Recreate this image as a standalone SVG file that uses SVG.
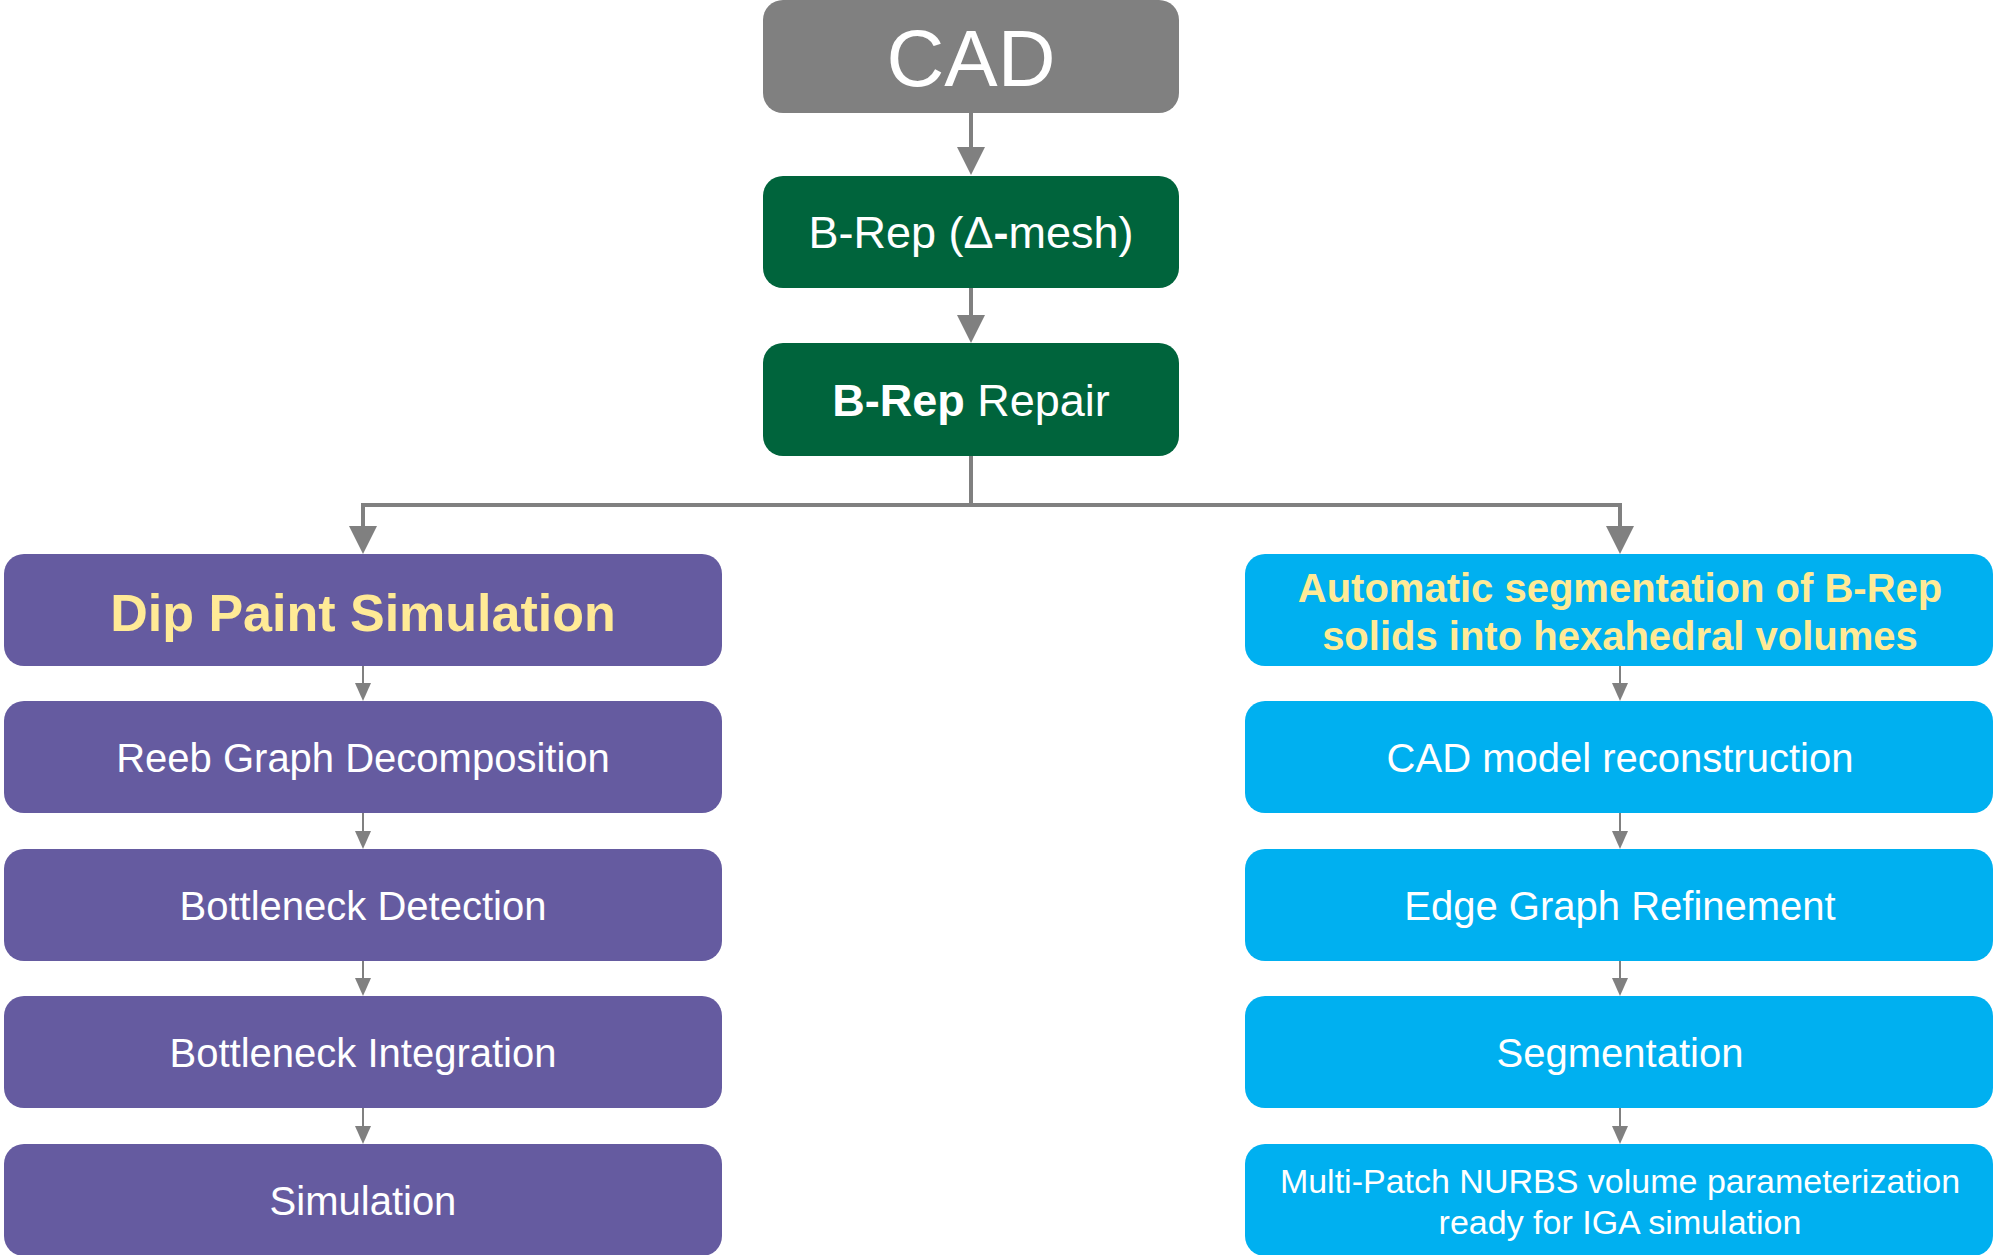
<svg xmlns="http://www.w3.org/2000/svg" width="1993" height="1255" viewBox="0 0 1993 1255">
<defs>
<style>
.t{font-family:"Liberation Sans",Arial,sans-serif;text-anchor:middle;fill:#fff}
.b{font-weight:bold}
.y{fill:#FFEA96}
.gray{fill:#808080}
.green{fill:#00643C}
.purple{fill:#655BA0}
.blue{fill:#00B0F0}
.c{fill:none;stroke:#808080}
.big{stroke-width:4}
.sm{stroke-width:2}
</style>
<marker id="ab" markerUnits="userSpaceOnUse" markerWidth="28" markerHeight="28" refX="0" refY="14" orient="auto" overflow="visible">
<path d="M0,0 L28,14 L0,28 Z" fill="#808080"/>
</marker>
<marker id="as" markerUnits="userSpaceOnUse" markerWidth="18" markerHeight="16" refX="0" refY="8" orient="auto" overflow="visible">
<path d="M0,0 L18,8 L0,16 Z" fill="#808080"/>
</marker>
</defs>
<rect width="1993" height="1255" fill="#fff"/>

<g id="connectors">
<path class="c big" d="M971,113 V147" marker-end="url(#ab)"/>
<path class="c big" d="M971,288 V315" marker-end="url(#ab)"/>
<path class="c big" d="M971,456 V505 H363 V526" marker-end="url(#ab)"/>
<path class="c big" d="M971,505 H1620 V526" marker-end="url(#ab)"/>
<path class="c sm" d="M363,666 V683" marker-end="url(#as)"/>
<path class="c sm" d="M363,813 V831" marker-end="url(#as)"/>
<path class="c sm" d="M363,961 V978" marker-end="url(#as)"/>
<path class="c sm" d="M363,1108 V1126" marker-end="url(#as)"/>
<path class="c sm" d="M1620,666 V683" marker-end="url(#as)"/>
<path class="c sm" d="M1620,813 V831" marker-end="url(#as)"/>
<path class="c sm" d="M1620,961 V978" marker-end="url(#as)"/>
<path class="c sm" d="M1620,1108 V1126" marker-end="url(#as)"/>
</g>

<g id="cad">
<rect class="gray" x="763" y="0" width="416" height="113" rx="20"/>
<text class="t" x="971" y="86" font-size="80">CAD</text>
</g>
<g id="brep-mesh">
<rect class="green" x="763" y="176" width="416" height="112" rx="20"/>
<text class="t" x="971" y="248" font-size="45">B-Rep (Δ<tspan class="b">-</tspan>mesh)</text>
</g>
<g id="brep-repair">
<rect class="green" x="763" y="343" width="416" height="113" rx="20"/>
<text class="t" x="971" y="416" font-size="45"><tspan class="b">B-Rep</tspan> Repair</text>
</g>

<g id="dip-paint">
<rect class="purple" x="4" y="554" width="718" height="112" rx="20"/>
<text class="t b y" x="363" y="631" font-size="52">Dip Paint Simulation</text>
</g>
<g id="reeb">
<rect class="purple" x="4" y="701" width="718" height="112" rx="20"/>
<text class="t" x="363" y="772" font-size="40">Reeb Graph Decomposition</text>
</g>
<g id="bottleneck-detection">
<rect class="purple" x="4" y="849" width="718" height="112" rx="20"/>
<text class="t" x="363" y="920" font-size="40">Bottleneck Detection</text>
</g>
<g id="bottleneck-integration">
<rect class="purple" x="4" y="996" width="718" height="112" rx="20"/>
<text class="t" x="363" y="1067" font-size="40">Bottleneck Integration</text>
</g>
<g id="simulation">
<rect class="purple" x="4" y="1144" width="718" height="112" rx="20"/>
<text class="t" x="363" y="1215" font-size="40">Simulation</text>
</g>

<g id="auto-seg">
<rect class="blue" x="1245" y="554" width="748" height="112" rx="20"/>
<text class="t b y" x="1620" y="602" font-size="40">Automatic segmentation of B-Rep</text>
<text class="t b y" x="1620" y="650" font-size="40">solids into hexahedral volumes</text>
</g>
<g id="cad-recon">
<rect class="blue" x="1245" y="701" width="748" height="112" rx="20"/>
<text class="t" x="1620" y="772" font-size="40">CAD model reconstruction</text>
</g>
<g id="edge-graph">
<rect class="blue" x="1245" y="849" width="748" height="112" rx="20"/>
<text class="t" x="1620" y="920" font-size="40">Edge Graph Refinement</text>
</g>
<g id="segmentation">
<rect class="blue" x="1245" y="996" width="748" height="112" rx="20"/>
<text class="t" x="1620" y="1067" font-size="40">Segmentation</text>
</g>
<g id="nurbs">
<rect class="blue" x="1245" y="1144" width="748" height="112" rx="20"/>
<text class="t" x="1620" y="1193" font-size="34">Multi-Patch NURBS volume parameterization</text>
<text class="t" x="1620" y="1234" font-size="34">ready for IGA simulation</text>
</g>
</svg>
